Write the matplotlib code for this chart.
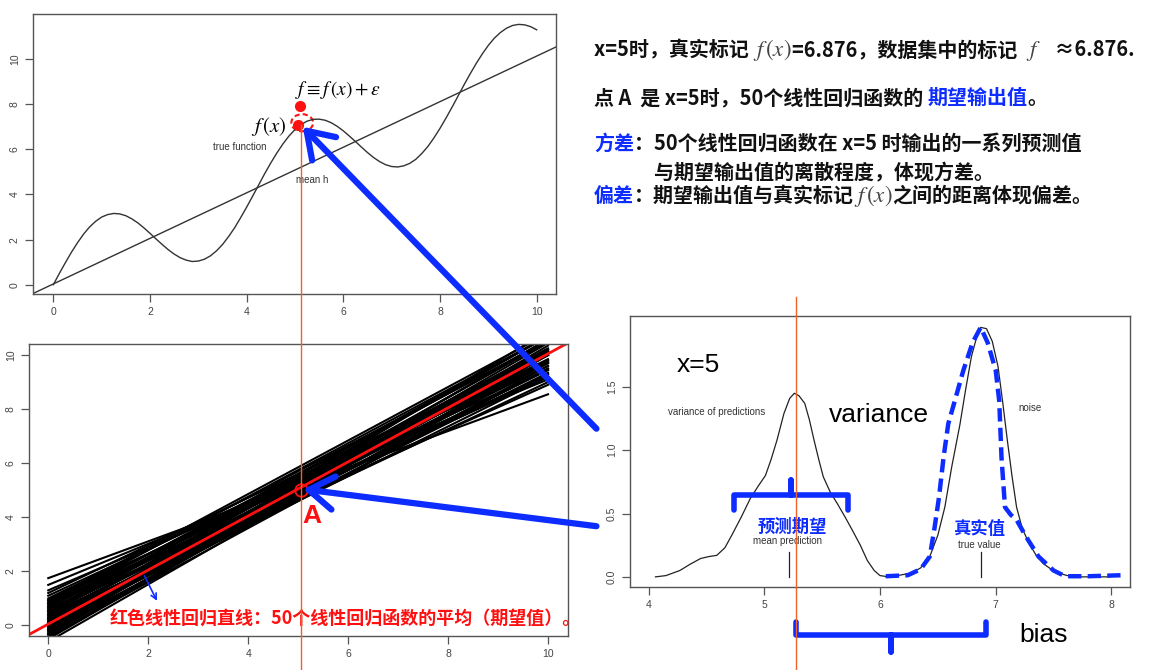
import matplotlib
matplotlib.use("Agg")
import matplotlib.pyplot as plt
from matplotlib.patches import Ellipse
from matplotlib.transforms import blended_transform_factory

plt.rcParams["font.family"] = ["Liberation Sans", "DejaVu Sans"]
plt.rcParams["mathtext.fontset"] = "stix"
CJK = ["Noto Sans CJK SC", "DejaVu Sans"]
BLUE = "#0d2cff"
ORANGE = "#f0602a"
RED = "#ff1010"

# ---- data ----
# top panel: true function and mean of the fitted lines
true_x = [0, 0.125, 0.25, 0.375, 0.5, 0.625, 0.75, 0.875, 1, 1.125, 1.25, 1.375, 1.5, 1.625,
          1.75, 1.875, 2, 2.125, 2.25, 2.375, 2.5, 2.625, 2.75, 2.875, 3, 3.125, 3.25, 3.375,
          3.5, 3.625, 3.75, 3.875, 4, 4.125, 4.25, 4.375, 4.5, 4.625, 4.75, 4.875, 5, 5.125,
          5.25, 5.375, 5.5, 5.625, 5.75, 5.875, 6, 6.125, 6.25, 6.375, 6.5, 6.625, 6.75, 6.875,
          7, 7.125, 7.25, 7.375, 7.5, 7.625, 7.75, 7.875, 8, 8.125, 8.25, 8.375, 8.5, 8.625,
          8.75, 8.875, 9, 9.125, 9.25, 9.375, 9.5, 9.625, 9.75, 9.875, 10]
true_y = [0.0, 0.50, 0.98, 1.44, 1.86, 2.24, 2.56, 2.81, 3.00, 3.11, 3.16, 3.14, 3.06, 2.92,
          2.74, 2.52, 2.28, 2.03, 1.79, 1.56, 1.36, 1.20, 1.09, 1.03, 1.05, 1.13, 1.28, 1.50,
          1.78, 2.13, 2.52, 2.97, 3.44, 3.93, 4.43, 4.93, 5.40, 5.84, 6.24, 6.59, 6.88, 7.10,
          7.25, 7.33, 7.34, 7.29, 7.18, 7.02, 6.82, 6.59, 6.35, 6.10, 5.86, 5.64, 5.46, 5.32,
          5.24, 5.22, 5.27, 5.38, 5.56, 5.82, 6.13, 6.51, 6.93, 7.39, 7.87, 8.37, 8.87, 9.35,
          9.81, 10.23, 10.61, 10.93, 11.18, 11.37, 11.49, 11.54, 11.52, 11.44, 11.30]
mean_h_x = [-0.5, 10.5]
mean_h_y = [-0.47, 10.64]
x_query = 5.1
fx_obs = 7.93      # f = f(x) + eps
fx_true = 7.1      # f(x)

# bottom panel: 50 fitted regression lines (value at x=0 and at x=10)
line_y0 = [1.75, 1.5, 1.2, 1.1, 1.0, 0.95, 0.9, 0.85, 0.8, 0.75, 0.7, 0.65, 0.6, 0.55, 0.5,
           0.45, 0.4, 0.35, 0.3, 0.25, 0.2, 0.15, 0.1, 0.05, 0.0, -0.05, -0.1, -0.15, -0.2,
           -0.25, -0.3, -0.35, -0.4, -0.5, -0.6, 0.9, 0.6, 0.3, 0.0, -0.3, 1.3, 0.8, 0.4,
           0.2, -0.1, 0.7, 0.5, 0.1, -0.2, -0.45]
line_y10 = [8.55, 9.1, 10.0, 9.7, 10.0, 9.45, 10.5, 9.85, 9.2, 10.15, 9.8, 10.55, 9.6, 10.25,
            9.3, 10.15, 10.7, 9.75, 10.1, 9.45, 10.5, 9.75, 10.2, 9.35, 10.0, 10.55, 9.7,
            10.05, 9.5, 10.45, 9.8, 10.15, 9.6, 10.2, 10.0, 10.8, 8.9, 9.0, 9.2, 10.9, 9.2,
            10.7, 9.3, 10.7, 10.2, 9.2, 10.7, 9.5, 10.6, 10.35]
avg_x = [-0.5, 10.5]
avg_y = [-0.45, 10.55]
point_a = (5.05, 5.0)

# right panel: densities at x=5
pred_x = [4.06, 4.15, 4.27, 4.36, 4.45, 4.52, 4.59, 4.66, 4.72, 4.80, 4.88, 4.95, 5.01, 5.06,
          5.11, 5.17, 5.22, 5.26, 5.30, 5.35, 5.39, 5.43, 5.47, 5.51, 5.57, 5.63, 5.70, 5.76,
          5.83, 5.89, 5.95, 6.00, 6.08]
pred_y = [0.0, 0.01, 0.05, 0.10, 0.145, 0.16, 0.17, 0.23, 0.33, 0.47, 0.62, 0.72, 0.80, 0.93,
          1.08, 1.29, 1.41, 1.45, 1.43, 1.37, 1.24, 1.08, 0.93, 0.79, 0.67, 0.58, 0.47, 0.37,
          0.25, 0.13, 0.05, 0.01, 0.0]
noise_x = [6.05, 6.15, 6.27, 6.35, 6.43, 6.50, 6.56, 6.62, 6.69, 6.74, 6.79, 6.84, 6.87, 6.92,
           6.97, 7.02, 7.06, 7.10, 7.14, 7.18, 7.23, 7.29, 7.35, 7.41, 7.48, 7.54, 7.62, 7.70, 7.99]
noise_y = [0.0, 0.01, 0.03, 0.07, 0.16, 0.33, 0.55, 0.87, 1.20, 1.48, 1.74, 1.91, 1.97, 1.96,
           1.86, 1.66, 1.38, 1.08, 0.80, 0.55, 0.38, 0.26, 0.17, 0.105, 0.06, 0.03, 0.01, 0.0, 0.0]
dash_x = [6.05, 6.24, 6.35, 6.43, 6.47, 6.51, 6.55, 6.59, 6.64, 6.72, 6.80, 6.87, 6.93, 7.00,
          7.03, 7.05, 7.08, 7.13, 7.18, 7.26, 7.37, 7.50, 7.60, 7.80, 8.09]
dash_y = [0.005, 0.013, 0.06, 0.16, 0.38, 0.63, 0.95, 1.21, 1.37, 1.63, 1.85, 1.97, 1.85, 1.63,
          1.39, 0.94, 0.55, 0.49, 0.45, 0.32, 0.16, 0.05, 0.005, 0.005, 0.013]
mean_pred = 5.21
true_value = 6.87
pred_centre = 5.27

W, H = 1174, 670
fig = plt.figure(figsize=(W / 100, H / 100), dpi=100)


def px_axes(l, t, r, b):
    return fig.add_axes([l / W, 1 - b / H, (r - l) / W, (b - t) / H])


def r_style(ax, xt, yt, ylab):
    for s in ax.spines.values():
        s.set_color("#555555")
        s.set_linewidth(1.0)
    ax.set_xticks(xt)
    ax.set_xticklabels([str(v) for v in xt])
    ax.set_yticks(yt)
    ax.set_yticklabels(ylab, rotation=90, va="center")
    ax.tick_params(direction="out", length=5.5, width=0.9, color="#555555",
                   labelsize=7.5, labelcolor="#444444")
    ax.tick_params(axis="x", pad=4)
    ax.tick_params(axis="y", pad=4)


# ---- top-left: true function ----
ax_t = px_axes(33, 14, 556, 294)
ax_t.plot(true_x, true_y, color="#333333", lw=1)
ax_t.plot(mean_h_x, mean_h_y, color="#333333", lw=1)
ax_t.set_xlim(-0.42, 10.4)
ax_t.set_ylim(-0.41, 12.0)
r_style(ax_t, [0, 2, 4, 6, 8, 10], [0, 2, 4, 6, 8, 10], ["0", "2", "4", "6", "8", "10"])
ax_t.plot([x_query], [fx_obs], "o", color=RED, ms=7)
ax_t.plot([x_query - 0.03], [fx_true], "o", color=RED, ms=7)
ax_t.add_patch(Ellipse((x_query + 0.05, fx_true + 0.08), 0.45, 0.76, fill=False,
                       ec=RED, lw=1.5, ls=(0, (2.5, 1.5))))
ax_t.text(5.0, 8.63, r"$f \equiv f\,(x) + \epsilon$", fontsize=14, va="center", ha="left")
ax_t.text(4.82, 7.0, r"$f\,(x)$", fontsize=15, va="center", ha="right")
ax_t.text(3.86, 6.1, "true function", fontsize=7, color="#333333", ha="center", va="center")
ax_t.text(5.35, 4.63, "mean h", fontsize=7, color="#333333", ha="center", va="center")

# ---- bottom-left: 50 regression lines ----
ax_b = px_axes(29, 344, 568, 636)
for a, b in zip(line_y0, line_y10):
    ax_b.plot([0, 10], [a, b], color="black", lw=1.5)
ax_b.plot(avg_x, avg_y, color=RED, lw=2)
ax_b.plot([point_a[0]], [point_a[1]], "o", mfc="none", mec=RED, ms=9, mew=1.3)
ax_b.set_xlim(-0.385, 10.4)
ax_b.set_ylim(-0.39, 10.41)
r_style(ax_b, [0, 2, 4, 6, 8, 10], [0, 2, 4, 6, 8, 10], ["0", "2", "4", "6", "8", "10"])
ax_b.text(5.28, 4.06, "A", color=RED, fontsize=19, fontweight="bold", ha="center",
          va="center", family=["Liberation Sans", "DejaVu Sans"])
ax_b.text(1.22, 0.28, "红色线性回归直线：50个线性回归函数的平均（期望值）。", color=RED,
          fontsize=13, fontweight="bold", family=CJK, va="center", ha="left", clip_on=False)
ax_b.annotate("", xy=(2.2, 0.82), xytext=(1.9, 1.93),
              arrowprops=dict(arrowstyle="->", color=BLUE, lw=1.2))

# ---- right: prediction / noise densities ----
ax_r = px_axes(630, 316, 1130, 587)
ax_r.plot(pred_x, pred_y, color="#222222", lw=0.9)
ax_r.plot(noise_x, noise_y, color="#222222", lw=0.9)
ax_r.plot(dash_x, dash_y, color=BLUE, lw=3.2, dashes=(3, 1.4), clip_on=False)
ax_r.plot([mean_pred, mean_pred], [0, 0.2], color="#222222", lw=0.9)
ax_r.plot([true_value, true_value], [0, 0.2], color="#222222", lw=0.9)
ax_r.set_xlim(3.84, 8.16)
ax_r.set_ylim(-0.08, 2.06)
r_style(ax_r, [4, 5, 6, 7, 8], [0, 0.5, 1.0, 1.5], ["0.0", "0.5", "1.0", "1.5"])
ax_r.text(4.43, 1.67, "x=5", fontsize=19, ha="center", va="center")
ax_r.text(5.99, 1.28, "variance", fontsize=19, ha="center", va="center")
ax_r.text(7.41, -0.46, "bias", fontsize=19, ha="center", va="center", clip_on=False)
ax_r.text(4.59, 1.30, "variance of predictions", fontsize=7, color="#333333", ha="center", va="center")
ax_r.text(7.30, 1.33, "noise", fontsize=7, color="#333333", ha="center", va="center")
ax_r.text(5.20, 0.284, "mean prediction", fontsize=7, color="#333333", ha="center", va="center")
ax_r.text(6.86, 0.255, "true value", fontsize=7, color="#333333", ha="center", va="center")
ax_r.text(5.24, 0.395, "预测期望", fontsize=12.5, color=BLUE, fontweight="bold", family=CJK,
          ha="center", va="center")
ax_r.text(6.86, 0.38, "真实值", fontsize=12.5, color=BLUE, fontweight="bold", family=CJK,
          ha="center", va="center")


def brace(ax, x1, x2, y, hook, tip):
    xm = (x1 + x2) / 2
    ax.plot([x1, x1, xm, xm, xm, x2, x2], [y + hook, y, y, y + tip, y, y, y + hook],
            color=BLUE, lw=4, solid_joinstyle="round", solid_capstyle="round", clip_on=False)


brace(ax_r, 4.74, 5.72, 0.645, -0.12, 0.12)
brace(ax_r, pred_centre, 6.92, -0.46, 0.105, -0.13)

# ---- orange guide lines at x=5 ----
fig_y_top = fig.transFigure.inverted().transform(ax_t.transData.transform((x_query, fx_true)))[1]
tr_b = blended_transform_factory(ax_b.transData, fig.transFigure)
ax_b.plot([5.06, 5.06], [0, fig_y_top], color=ORANGE, lw=1, transform=tr_b, clip_on=False,
          zorder=5)
tr_r = blended_transform_factory(ax_r.transData, fig.transFigure)
ax_r.plot([pred_centre, pred_centre], [0, 1 - 297 / H], color=ORANGE, lw=1, transform=tr_r,
          clip_on=False, zorder=5)

# ---- big blue arrows ----
arrow = dict(arrowstyle="->,head_length=0.45,head_width=0.3", color=BLUE, lw=4.5,
             mutation_scale=40, shrinkA=0, shrinkB=0)
for tgt_ax, xy, src in [(ax_t, (5.16, 7.0), (3.55, 1.17)), (ax_b, (5.1, 5.04), (3.55, 0.40))]:
    an = ax_r.annotate("", xy=xy, xycoords=tgt_ax.transData, xytext=src,
                       textcoords=ax_r.transData, arrowprops=arrow, annotation_clip=False)
    an.arrow_patch.set_clip_on(False)

# ---- explanation text block ----
renderer = fig.canvas.get_renderer()


def text_run(x, y, parts, size=14.4):
    xs = []
    for s, c, math in parts:
        if math:
            t = fig.text(x / W, 1 - y / H, s, color=c, fontsize=size + 2, va="baseline")
        else:
            t = fig.text(x / W, 1 - y / H, s, color=c, fontsize=size, family=CJK,
                         fontweight="bold", va="baseline")
        x += t.get_window_extent(renderer).width
        xs.append(x)
    return xs


K = "#111111"
text_run(594, 56, [("x=5时，真实标记 ", K, False), ("$f\\,(x)$", "#444444", True),
                   ("=6.876，数据集中的标记  ", K, False), ("$f$", "#444444", True),
                   ("   ≈6.876.", K, False)])
text_run(594, 104, [("点 A  是 x=5时，50个线性回归函数的 ", K, False), ("期望输出值", BLUE, False),
                    ("。", K, False)])
xs = text_run(594, 150, [("方差", BLUE, False), ("：", K, False),
                         ("50个线性回归函数在 x=5 时输出的一系列预测值", K, False)])
text_run(xs[1], 179, [("与期望输出值的离散程度，体现方差。", K, False)])
text_run(594, 202, [("偏差", BLUE, False), ("：期望输出值与真实标记", K, False),
                    ("$f\\,(x)$", "#444444", True), ("之间的距离体现偏差。", K, False)])

fig.savefig("out.png", dpi=100)
